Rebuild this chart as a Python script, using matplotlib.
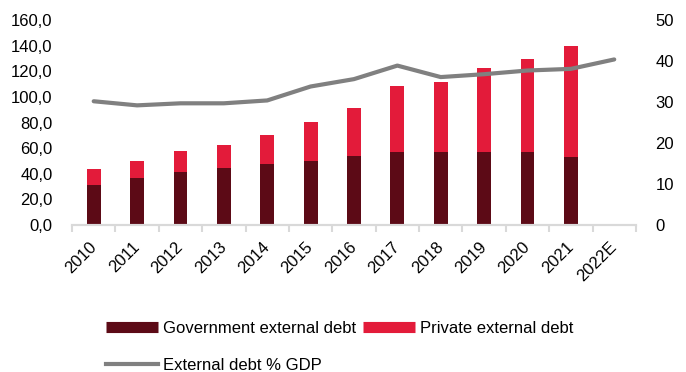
import numpy as np
import matplotlib
matplotlib.use("Agg")
import matplotlib.pyplot as plt
from matplotlib.lines import Line2D

plt.rcParams['font.family'] = ['Liberation Sans', 'DejaVu Sans']

years = ['2010', '2011', '2012', '2013', '2014', '2015', '2016',
         '2017', '2018', '2019', '2020', '2021', '2022E']
gov_debt = [31.4, 37.0, 41.5, 44.4, 47.3, 50.2, 53.9, 56.7, 56.7, 56.7, 56.7, 52.8]
total_debt = [43.6, 49.9, 57.5, 62.6, 70.5, 80.4, 91.0, 108.6, 111.8, 122.6, 130.0, 139.5]
private_debt = [t - g for t, g in zip(total_debt, gov_debt)]
debt_gdp = [30.2, 29.2, 29.7, 29.7, 30.4, 33.8, 35.6, 38.9, 36.1, 36.8, 37.7, 38.1, 40.4]

dark_red = '#5C0A16'
red = '#E31B3A'
grey = '#808080'
fs = 12

fig = plt.figure(figsize=(6.86, 3.72), dpi=100)
ax = fig.add_axes([0.105, 0.395, 0.822, 0.551])
ax2 = ax.twinx()

x = np.arange(len(years))
nb = len(gov_debt)
ax.bar(x[:nb], gov_debt, width=0.32, color=dark_red, zorder=2)
ax.bar(x[:nb], private_debt, width=0.32, bottom=gov_debt, color=red, zorder=2)
ax2.plot(x, debt_gdp, color=grey, lw=3, solid_capstyle='round')

ax.set_xlim(-0.5, len(years) - 0.5)
ax.set_ylim(0, 160)
ax2.set_ylim(0, 50)
ax.set_yticks(np.arange(0, 161, 20))
ax.set_yticklabels([f'{v},0' for v in range(0, 161, 20)], fontsize=fs)
ax2.set_yticks(np.arange(0, 51, 10))
ax2.set_yticklabels([str(v) for v in range(0, 51, 10)], fontsize=fs)

# major ticks sit between the years, labels on minor ticks
ax.set_xticks(np.arange(-0.5, len(years), 1))
ax.set_xticklabels([])
ax.tick_params(axis='x', which='major', length=5, color='#D9D9D9', width=1.5)
ax.set_xticks(x, minor=True)
ax.set_xticklabels(years, minor=True, rotation=45, ha='right', va='center',
                   rotation_mode='anchor', fontsize=fs)
ax.tick_params(axis='x', which='minor', length=0, pad=14)
ax.tick_params(axis='y', length=0, pad=14)
ax2.tick_params(axis='y', length=0, pad=14)

for a in (ax, ax2):
    for s in ('top', 'left', 'right'):
        a.spines[s].set_visible(False)
    a.spines['bottom'].set_color('#D9D9D9')
    a.spines['bottom'].set_linewidth(1.5)

handles = [Line2D([], [], color=dark_red, lw=8, solid_capstyle='butt'),
           Line2D([], [], color=grey, lw=3),
           Line2D([], [], color=red, lw=8, solid_capstyle='butt')]
labels = ['Government external debt', 'External debt % GDP', 'Private external debt']
fig.legend(handles, labels, ncol=2, loc='upper left', bbox_to_anchor=(0.145, 0.155),
           frameon=False, fontsize=fs, handlelength=3.1, handletextpad=0.3,
           columnspacing=0.45, labelspacing=1.3, borderaxespad=0)

fig.savefig('out.png', dpi=100)
